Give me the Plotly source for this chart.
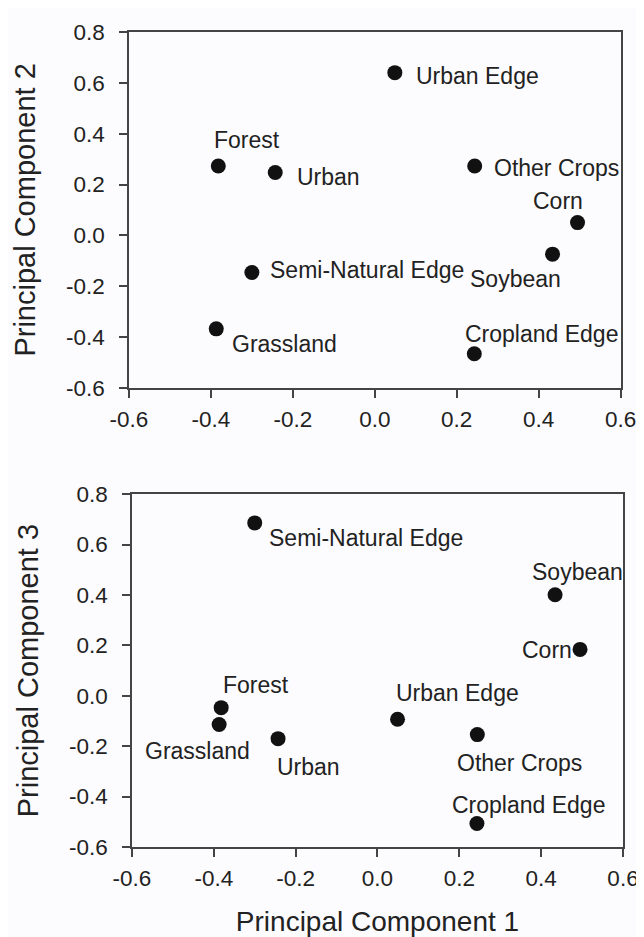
import plotly.graph_objects as go

# ---------------- data ----------------
categories = ["Urban Edge", "Forest", "Urban", "Other Crops", "Corn",
              "Soybean", "Semi-Natural Edge", "Grassland", "Cropland Edge"]
pc1 = [0.049, -0.382, -0.243, 0.244, 0.495, 0.434, -0.300, -0.387, 0.243]
pc2 = [0.640, 0.273, 0.247, 0.273, 0.050, -0.074, -0.146, -0.368, -0.466]
pc3 = [-0.093, -0.047, -0.170, -0.154, 0.184, 0.401, 0.686, -0.114, -0.507]

x_ticks = [-0.6, -0.4, -0.2, 0.0, 0.2, 0.4, 0.6]
y_ticks = [-0.6, -0.4, -0.2, 0.0, 0.2, 0.4, 0.6, 0.8]
tick_text_x = ["-0.6", "-0.4", "-0.2", "0.0", "0.2", "0.4", "0.6"]
tick_text_y = ["-0.6", "-0.4", "-0.2", "0.0", "0.2", "0.4", "0.6", "0.8"]

# ---------------- label placement (style) ----------------
# (anchor, x offset px, y offset px downward)
top_lab = {
    "Urban Edge": ("left", 19, 3),
    "Forest": ("left", -6, -26),
    "Urban": ("left", 20, 4),
    "Other Crops": ("left", 17, 2),
    "Corn": ("right", 7, -22),
    "Soybean": ("right", 10, 25),
    "Semi-Natural Edge": ("left", 16, -2),
    "Grassland": ("left", 14, 15),
    "Cropland Edge": ("left", -11, -20),
}
bot_lab = {
    "Semi-Natural Edge": ("left", 12, 15),
    "Soybean": ("left", -25, -23),
    "Corn": ("right", -6, 1),
    "Forest": ("left", 0, -23),
    "Grassland": ("right", 33, 26),
    "Urban": ("left", -3, 28),
    "Urban Edge": ("left", -4, -26),
    "Other Crops": ("left", -22, 28),
    "Cropland Edge": ("left", -27, -19),
}

FONT = "Arial, Liberation Sans, sans-serif"
TXT = "#222222"
LINE = "#444444"
LBL = 23
TICK = 22.5

fig = go.Figure()
fig.add_trace(go.Scatter(x=pc1, y=pc2, mode="markers", xaxis="x", yaxis="y",
                         marker=dict(size=15, color="#111111"), showlegend=False))
fig.add_trace(go.Scatter(x=pc1, y=pc3, mode="markers", xaxis="x2", yaxis="y2",
                         marker=dict(size=15, color="#111111"), showlegend=False))

annotations = []
for name, xv, yv in zip(categories, pc1, pc2):
    a, dx, dy = top_lab[name]
    annotations.append(dict(x=xv, y=yv, xref="x", yref="y", text=name, showarrow=False,
                            xanchor=a, yanchor="middle", xshift=dx, yshift=-dy,
                            font=dict(family=FONT, size=LBL, color=TXT)))
for name, xv, yv in zip(categories, pc1, pc3):
    a, dx, dy = bot_lab[name]
    annotations.append(dict(x=xv, y=yv, xref="x2", yref="y2", text=name, showarrow=False,
                            xanchor=a, yanchor="middle", xshift=dx, yshift=-dy,
                            font=dict(family=FONT, size=LBL, color=TXT)))

axis_common = dict(showgrid=False, zeroline=False, showline=True, linecolor=LINE,
                   linewidth=1.5, mirror=True, ticks="outside", ticklen=8,
                   tickwidth=1.5, tickcolor=LINE,
                   tickfont=dict(family=FONT, size=TICK, color=TXT))

fig.update_layout(
    width=644, height=937,
    margin=dict(l=121, r=16, t=19, b=98),
    paper_bgcolor="#fcfcfe", plot_bgcolor="#fcfcfe",
    font=dict(family=FONT, color=TXT),
    annotations=annotations,
    xaxis=dict(axis_common, domain=[0.0, 0.993], range=[-0.6, 0.6], anchor="y",
               tickvals=x_ticks, ticktext=tick_text_x, ticklabelstandoff=2),
    yaxis=dict(axis_common, domain=[0.5634, 1.0], range=[-0.6, 0.8], anchor="x",
               tickvals=y_ticks, ticktext=tick_text_y, ticklabelstandoff=10,
               title=dict(text="Principal Component 2", standoff=22,
                          font=dict(family=FONT, size=29, color=TXT))),
    xaxis2=dict(axis_common, domain=[0.006, 0.998], range=[-0.6, 0.6], anchor="y2",
                tickvals=x_ticks, ticktext=tick_text_x, ticklabelstandoff=2,
                title=dict(text="Principal Component 1", standoff=22,
                           font=dict(family=FONT, size=28, color=TXT))),
    yaxis2=dict(axis_common, domain=[0.0, 0.4329], range=[-0.6, 0.8], anchor="x2",
                tickvals=y_ticks, ticktext=tick_text_y, ticklabelstandoff=10,
                title=dict(text="Principal Component 3", standoff=22,
                           font=dict(family=FONT, size=29, color=TXT))),
)

fig.write_html("out.html")
